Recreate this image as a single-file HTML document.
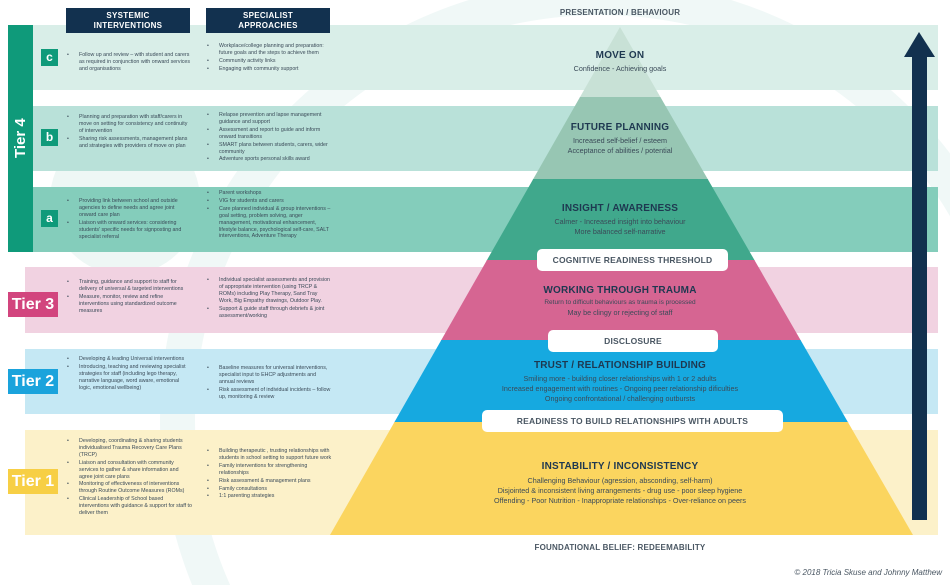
<!DOCTYPE html>
<html><head><meta charset="utf-8"><style>
*{margin:0;padding:0;box-sizing:border-box}
html,body{width:950px;height:585px;overflow:hidden}
body{position:relative;background:#fff;font-family:"Liberation Sans",sans-serif;color:#2d3f4e}
.a{position:absolute}
.band{position:absolute;left:33px;width:905px}
.hdr{position:absolute;top:8px;height:25px;width:124px;background:#12314f;color:#fff;font-weight:bold;font-size:8px;text-align:center;line-height:9.5px;padding-top:3px;letter-spacing:.3px}
.let{position:absolute;left:41px;width:17px;height:17px;background:#0f9a7a;color:#fff;font-weight:bold;font-size:12px;text-align:center;line-height:16px}
.tier{position:absolute;left:8px;width:50px;height:25px;color:#fff;font-weight:bold;font-size:16px;text-align:center;line-height:25px}
ul{position:absolute;list-style:none;font-size:5.3px;line-height:6.9px;color:#3a4a58}
ul li{position:relative;padding-left:13px;margin-bottom:1px}
ul li:before{content:"•";position:absolute;left:1px}
.s{left:66px;width:126px}
.p{left:206px;width:126px}
.t{position:absolute;text-align:center;font-weight:bold;font-size:10px;color:#1e3850;letter-spacing:.2px}
.d{position:absolute;left:380px;width:480px;text-align:center;font-size:7.2px;line-height:10px;color:#3a4a58}
.pill{position:absolute;background:#fff;border-radius:5px;text-align:center;font-weight:bold;font-size:8.5px;color:#4a5763;line-height:22px;letter-spacing:.2px}
</style></head><body>
<svg class="a" style="left:0;top:0" width="950" height="585">
<circle cx="600" cy="420" r="440" fill="#f0f8f7"/>
<circle cx="600" cy="420" r="405" fill="#fff"/>
<circle cx="125" cy="200" r="75" fill="#eef7f5"/>
</svg>
<div class="band" style="top:25px;height:65px;background:#d9eee8"></div>
<div class="band" style="top:106px;height:65px;background:#b9e1d9"></div>
<div class="band" style="top:187px;height:65px;background:#84cdbb"></div>
<div class="band" style="left:25px;width:913px;top:267px;height:66px;background:#f1d2e1"></div>
<div class="band" style="left:25px;width:913px;top:349px;height:65px;background:#c5e8f4"></div>
<div class="band" style="left:25px;width:913px;top:430px;height:105px;background:#fcf1c9"></div>
<div class="a" style="left:8px;top:25px;width:25px;height:227px;background:#0f9a7a"></div>
<div class="a" style="left:8px;top:25px;width:25px;height:227px;color:#fff;font-weight:bold;font-size:15px;writing-mode:vertical-rl;transform:rotate(180deg);text-align:center;line-height:25px">Tier 4</div>
<div class="hdr" style="left:66px">SYSTEMIC<br>INTERVENTIONS</div>
<div class="hdr" style="left:206px">SPECIALIST<br>APPROACHES</div>
<div class="let" style="top:49px">c</div>
<div class="let" style="top:129px">b</div>
<div class="let" style="top:210px">a</div>
<div class="tier" style="top:292px;background:#d2457e">Tier 3</div>
<div class="tier" style="top:369px;background:#1aa3dc">Tier 2</div>
<div class="tier" style="top:469px;background:#f7cf45">Tier 1</div>

<ul class="s" style="top:52px"><li>Follow up and review – with student and carers as required in conjunction with onward services and organisations</li></ul>
<ul class="p" style="top:43px"><li>Workplace/college planning and preparation: future goals and the steps to achieve them</li><li>Community activity links</li><li>Engaging with community support</li></ul>
<ul class="s" style="top:114px"><li>Planning and preparation with staff/carers in move on setting for consistency and continuity of intervention</li><li>Sharing risk assessments, management plans and strategies with providers of move on plan</li></ul>
<ul class="p" style="top:112px"><li>Relapse prevention and lapse management guidance and support</li><li>Assessment and report to guide and inform onward transitions</li><li>SMART plans between students, carers, wider community</li><li>Adventure sports personal skills award</li></ul>
<ul class="s" style="top:198px"><li>Providing link between school and outside agencies to define needs and agree joint onward care plan</li><li>Liaison with onward services: considering students' specific needs for signposting and specialist referral</li></ul>
<ul class="p" style="top:190px"><li>Parent workshops</li><li>VIG for students and carers</li><li>Care planned individual &amp; group interventions – goal setting, problem solving, anger management, motivational enhancement, lifestyle balance, psychological self-care, SALT interventions, Adventure Therapy</li></ul>
<ul class="s" style="top:279px"><li>Training, guidance and support to staff for delivery of universal &amp; targeted interventions</li><li>Measure, monitor, review and refine interventions using standardized outcome measures</li></ul>
<ul class="p" style="top:277px"><li>Individual specialist assessments and provision of appropriate intervention (using TRCP &amp; ROMs) including Play Therapy, Sand Tray Work, Big Empathy drawings, Outdoor Play.</li><li>Support &amp; guide staff through debriefs &amp; joint assessment/working</li></ul>
<ul class="s" style="top:356px"><li>Developing &amp; leading Universal interventions</li><li>Introducing, teaching and reviewing specialist strategies for staff (including lego therapy, narrative language, word aware, emotional logic, emotional wellbeing)</li></ul>
<ul class="p" style="top:365px"><li>Baseline measures for universal interventions, specialist input to EHCP adjustments and annual reviews</li><li>Risk assessment of individual incidents – follow up, monitoring &amp; review</li></ul>
<ul class="s" style="top:438px"><li>Developing, coordinating &amp; sharing students individualised Trauma Recovery Care Plans (TRCP)</li><li>Liaison and consultation with community services to gather &amp; share information and agree joint care plans</li><li>Monitoring of effectiveness of interventions through Routine Outcome Measures (ROMs)</li><li>Clinical Leadership of School based interventions with guidance &amp; support for staff to deliver them</li></ul>
<ul class="p" style="top:448px"><li>Building therapeutic , trusting relationships with students in school setting to support future work</li><li>Family interventions for strengthening relationships</li><li>Risk assessment &amp; management plans</li><li>Family consultations</li><li>1:1 parenting strategies</li></ul>

<svg class="a" style="left:0;top:0" width="950" height="585">
<defs><clipPath id="pyr"><polygon points="620,27 330,535 913,535"/></clipPath></defs>
<g clip-path="url(#pyr)">
<rect x="300" y="20" width="650" height="78" fill="#c8e1d6"/>
<rect x="300" y="97" width="650" height="83" fill="#97c6b3"/>
<rect x="300" y="179" width="650" height="82" fill="#40a88c"/>
<rect x="300" y="260" width="650" height="81" fill="#d66592"/>
<rect x="300" y="340" width="650" height="83" fill="#16a9e0"/>
<rect x="300" y="422" width="650" height="114" fill="#fbd55f"/>
</g>
<rect x="912" y="52" width="15" height="468" fill="#12314f"/>
<polygon points="919,32 904,57 935,57" fill="#12314f"/>
</svg>

<div class="t" style="left:420px;width:400px;top:8px;font-size:8px;color:#4a5763">PRESENTATION / BEHAVIOUR</div>
<div class="t" style="left:420px;width:400px;top:50px">MOVE ON</div>
<div class="d" style="top:64px">Confidence - Achieving goals</div>
<div class="t" style="left:420px;width:400px;top:122px">FUTURE PLANNING</div>
<div class="d" style="top:136px">Increased self-belief / esteem<br>Acceptance of abilities / potential</div>
<div class="t" style="left:420px;width:400px;top:203px">INSIGHT / AWARENESS</div>
<div class="d" style="top:217px">Calmer - Increased insight into behaviour<br>More balanced self-narrative</div>
<div class="pill" style="left:537px;top:249px;width:191px">COGNITIVE READINESS THRESHOLD</div>
<div class="t" style="left:420px;width:400px;top:285px">WORKING THROUGH TRAUMA</div>
<div class="d" style="top:298px;font-size:6.5px;line-height:9.5px">Return to difficult behaviours as trauma is processed<br><span style="font-size:7.2px">May be clingy or rejecting of staff</span></div>
<div class="pill" style="left:548px;top:330px;width:170px">DISCLOSURE</div>
<div class="t" style="left:420px;width:400px;top:360px">TRUST / RELATIONSHIP BUILDING</div>
<div class="d" style="top:374px">Smiling more - building closer relationships with 1 or 2 adults<br>Increased engagement with routines - Ongoing peer relationship dificulties<br>Ongoing confrontational / challenging outbursts</div>
<div class="pill" style="left:482px;top:410px;width:301px">READINESS TO BUILD RELATIONSHIPS WITH ADULTS</div>
<div class="t" style="left:420px;width:400px;top:461px">INSTABILITY / INCONSISTENCY</div>
<div class="d" style="top:476px">Challenging Behaviour (agression, absconding, self-harm)<br>Disjointed &amp; inconsistent living arrangements - drug use - poor sleep hygiene<br>Offending - Poor Nutrition - Inappropriate relationships - Over-reliance on peers</div>
<div class="t" style="left:420px;width:400px;top:543px;font-size:8px;color:#4a5763">FOUNDATIONAL BELIEF: REDEEMABILITY</div>
<div class="a" style="right:8px;top:568px;font-style:italic;font-size:8px;color:#4a5763">© 2018 Tricia Skuse and Johnny Matthew</div>
</body></html>
